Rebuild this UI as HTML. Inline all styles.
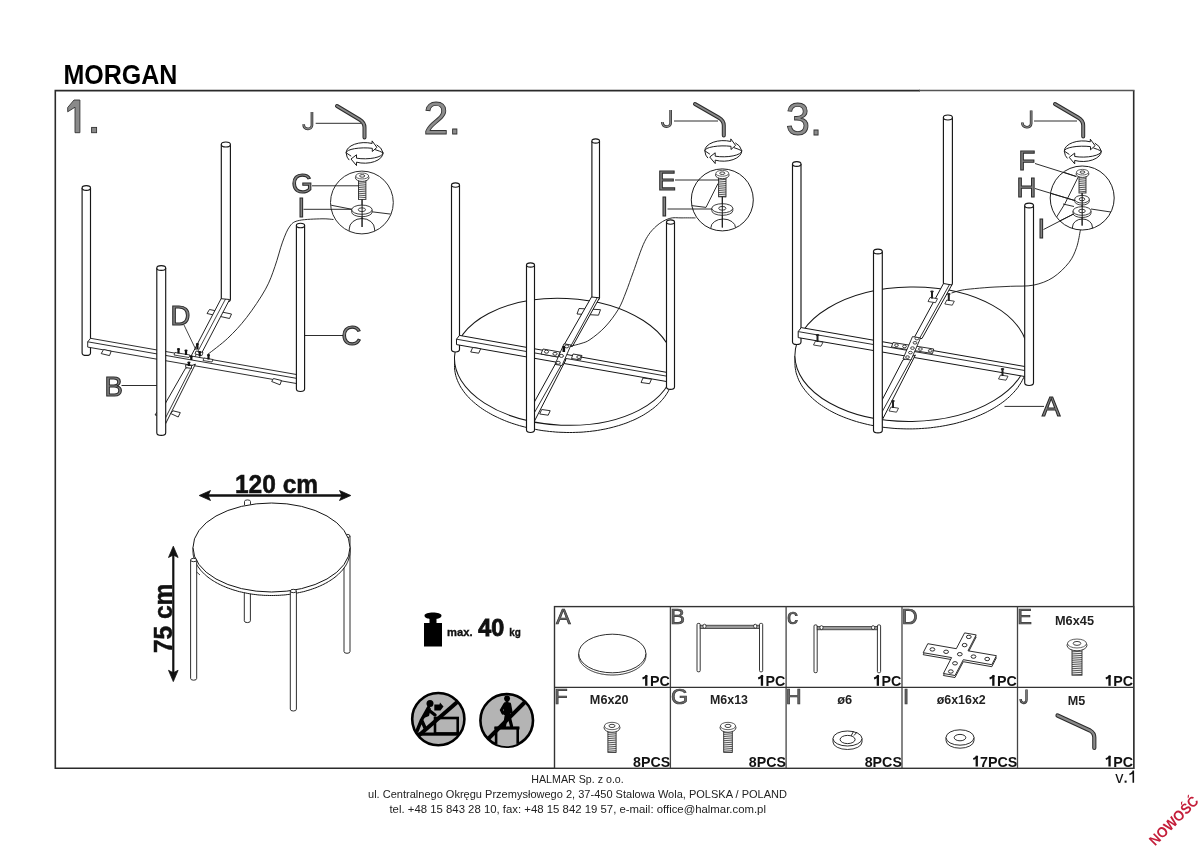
<!DOCTYPE html>
<html><head><meta charset="utf-8"><style>
html,body{margin:0;padding:0;background:#fff;width:1200px;height:848px;overflow:hidden}
svg{display:block;will-change:transform}
text{font-family:"Liberation Sans",sans-serif}
</style></head><body>
<svg width="1200" height="848" viewBox="0 0 1200 848">
<rect width="1200" height="848" fill="#fff"/>
<text x="63.4" y="84.4" font-size="27" font-weight="bold" fill="#000" text-anchor="start" textLength="114" lengthAdjust="spacingAndGlyphs" >MORGAN</text>
<path d="M920,90.6 L55.3,90.6 L55.3,768.3 L1133.7,768.3 L1133.7,90.6" fill="none" stroke="#2a2a2a" stroke-width="1.6"/>
<line x1="919" y1="90.6" x2="1134.5" y2="90.6" stroke="#555" stroke-width="1.5"/>
<text x="423.5" y="133.7" font-size="46" fill="#8c8c8c" stroke="#333" stroke-width="0.9" text-anchor="start" textLength="37.5" lengthAdjust="spacingAndGlyphs">2.</text>
<text x="785.8" y="134.6" font-size="46" fill="#8c8c8c" stroke="#333" stroke-width="0.9" text-anchor="start" textLength="36.2" lengthAdjust="spacingAndGlyphs">3.</text>
<rect x="554.5" y="606.6" width="579.2" height="161.69999999999993" fill="#fff" stroke="#333" stroke-width="1.4"/>
<line x1="670.4" y1="606.6" x2="670.4" y2="768.3" stroke="#444" stroke-width="1.3"/>
<line x1="786.1" y1="606.6" x2="786.1" y2="768.3" stroke="#444" stroke-width="1.3"/>
<line x1="902.0" y1="606.6" x2="902.0" y2="768.3" stroke="#444" stroke-width="1.3"/>
<line x1="1017.5" y1="606.6" x2="1017.5" y2="768.3" stroke="#444" stroke-width="1.3"/>
<line x1="554.5" y1="687.4" x2="1133.7" y2="687.4" stroke="#333" stroke-width="1.4"/>
<text x="555.9" y="623.8" font-size="22" fill="#6a6a6a" stroke="#333" stroke-width="0.7" text-anchor="start">A</text>
<text x="670.2" y="623.8" font-size="22" fill="#6a6a6a" stroke="#333" stroke-width="0.7" text-anchor="start">B</text>
<text x="787.1" y="623.8" font-size="22" fill="#6a6a6a" stroke="#333" stroke-width="0.7" text-anchor="start">c</text>
<text x="901.7" y="623.8" font-size="22" fill="#6a6a6a" stroke="#333" stroke-width="0.7" text-anchor="start">D</text>
<text x="1017.2" y="623.8" font-size="22" fill="#6a6a6a" stroke="#333" stroke-width="0.7" text-anchor="start">E</text>
<text x="554.2" y="704.4" font-size="22" fill="#6a6a6a" stroke="#333" stroke-width="0.7" text-anchor="start">F</text>
<text x="670.9" y="704.4" font-size="22" fill="#6a6a6a" stroke="#333" stroke-width="0.7" text-anchor="start">G</text>
<text x="785.7" y="704.4" font-size="22" fill="#6a6a6a" stroke="#333" stroke-width="0.7" text-anchor="start">H</text>
<text x="903" y="704.4" font-size="22" fill="#6a6a6a" stroke="#333" stroke-width="0.7" text-anchor="start">I</text>
<path d="M1026.50,689.40 L1026.50,699.90 C1026.50,704.10 1020.60,704.10 1020.60,699.12" fill="none" stroke="#333" stroke-width="2.4" stroke-linecap="butt"/>
<path d="M1026.50,689.40 L1026.50,699.90 C1026.50,704.10 1020.60,704.10 1020.60,699.12" fill="none" stroke="#8a8a8a" stroke-width="0.8" stroke-linecap="butt"/>
<path d="M646.25,675.10 L646.25,685.80" stroke="#111" stroke-width="2.3" fill="none"/>
<path d="M647.10,675.50 Q644.90,677.70 642.50,678.50" stroke="#111" stroke-width="1.9" fill="none"/>
<text x="669.6999999999999" y="685.8" font-size="15" font-weight="bold" fill="#111" text-anchor="end" textLength="19.8" lengthAdjust="spacingAndGlyphs" >PC</text>
<path d="M761.95,675.10 L761.95,685.80" stroke="#111" stroke-width="2.3" fill="none"/>
<path d="M762.80,675.50 Q760.60,677.70 758.20,678.50" stroke="#111" stroke-width="1.9" fill="none"/>
<text x="785.4" y="685.8" font-size="15" font-weight="bold" fill="#111" text-anchor="end" textLength="19.8" lengthAdjust="spacingAndGlyphs" >PC</text>
<path d="M877.85,675.10 L877.85,685.80" stroke="#111" stroke-width="2.3" fill="none"/>
<path d="M878.70,675.50 Q876.50,677.70 874.10,678.50" stroke="#111" stroke-width="1.9" fill="none"/>
<text x="901.3" y="685.8" font-size="15" font-weight="bold" fill="#111" text-anchor="end" textLength="19.8" lengthAdjust="spacingAndGlyphs" >PC</text>
<path d="M993.35,675.10 L993.35,685.80" stroke="#111" stroke-width="2.3" fill="none"/>
<path d="M994.20,675.50 Q992.00,677.70 989.60,678.50" stroke="#111" stroke-width="1.9" fill="none"/>
<text x="1016.8" y="685.8" font-size="15" font-weight="bold" fill="#111" text-anchor="end" textLength="19.8" lengthAdjust="spacingAndGlyphs" >PC</text>
<path d="M1109.55,675.10 L1109.55,685.80" stroke="#111" stroke-width="2.3" fill="none"/>
<path d="M1110.40,675.50 Q1108.20,677.70 1105.80,678.50" stroke="#111" stroke-width="1.9" fill="none"/>
<text x="1133.0000000000002" y="685.8" font-size="15" font-weight="bold" fill="#111" text-anchor="end" textLength="19.8" lengthAdjust="spacingAndGlyphs" >PC</text>
<text x="670.3" y="766.5" font-size="15" font-weight="bold" fill="#111" text-anchor="end" textLength="37.2" lengthAdjust="spacingAndGlyphs" >8PCS</text>
<text x="786.0" y="766.5" font-size="15" font-weight="bold" fill="#111" text-anchor="end" textLength="37.2" lengthAdjust="spacingAndGlyphs" >8PCS</text>
<text x="901.9" y="766.5" font-size="15" font-weight="bold" fill="#111" text-anchor="end" textLength="37.2" lengthAdjust="spacingAndGlyphs" >8PCS</text>
<path d="M976.75,755.80 L976.75,766.50" stroke="#111" stroke-width="2.3" fill="none"/>
<path d="M977.60,756.20 Q975.40,758.40 973.30,759.20" stroke="#111" stroke-width="1.9" fill="none"/>
<text x="1017.4" y="766.5" font-size="15" font-weight="bold" fill="#111" text-anchor="end" textLength="37.4" lengthAdjust="spacingAndGlyphs" >7PCS</text>
<path d="M1109.55,755.80 L1109.55,766.50" stroke="#111" stroke-width="2.3" fill="none"/>
<path d="M1110.40,756.20 Q1108.20,758.40 1105.80,759.20" stroke="#111" stroke-width="1.9" fill="none"/>
<text x="1133.0000000000002" y="766.5" font-size="15" font-weight="bold" fill="#111" text-anchor="end" textLength="19.8" lengthAdjust="spacingAndGlyphs" >PC</text>
<text x="1074.5" y="624.5" font-size="13.5" font-weight="bold" fill="#222" text-anchor="middle" textLength="39" lengthAdjust="spacingAndGlyphs" >M6x45</text>
<text x="609.2" y="703.6" font-size="13.5" font-weight="bold" fill="#222" text-anchor="middle" textLength="38.7" lengthAdjust="spacingAndGlyphs" >M6x20</text>
<text x="729" y="703.6" font-size="13.5" font-weight="bold" fill="#222" text-anchor="middle" textLength="37.9" lengthAdjust="spacingAndGlyphs" >M6x13</text>
<text x="844.7" y="703.6" font-size="13.5" font-weight="bold" fill="#222" text-anchor="middle" textLength="15" lengthAdjust="spacingAndGlyphs" >ø6</text>
<text x="961.2" y="703.6" font-size="13.5" font-weight="bold" fill="#222" text-anchor="middle" textLength="49" lengthAdjust="spacingAndGlyphs" >ø6x16x2</text>
<text x="1076.4" y="704.5" font-size="13.5" font-weight="bold" fill="#222" text-anchor="middle" textLength="17.5" lengthAdjust="spacingAndGlyphs" >M5</text>
<text x="577.5" y="782.5" font-size="11" font-weight="normal" fill="#222" text-anchor="middle" textLength="92.5" lengthAdjust="spacingAndGlyphs" >HALMAR Sp. z o.o.</text>
<text x="577.5" y="797.5" font-size="11" font-weight="normal" fill="#222" text-anchor="middle" textLength="419" lengthAdjust="spacingAndGlyphs" >ul. Centralnego Okręgu Przemysłowego 2, 37-450 Stalowa Wola, POLSKA / POLAND</text>
<text x="577.7" y="812.5" font-size="11" font-weight="normal" fill="#222" text-anchor="middle" textLength="376.5" lengthAdjust="spacingAndGlyphs" >tel. +48 15 843 28 10, fax: +48 15 842 19 57, e-mail: office@halmar.com.pl</text>
<text x="1115.3" y="782.7" font-size="17" font-weight="normal" fill="#111" text-anchor="start" textLength="8.2" lengthAdjust="spacingAndGlyphs" >v</text>
<rect x="1124.6" y="780.6" width="2" height="2.1" fill="#111"/>
<path d="M1133.3,782.7 L1133.3,770.6 M1133.6,771.2 Q1131.5,774 1129.4,774.6" stroke="#111" stroke-width="1.6" fill="none"/>
<text x="0" y="0" font-size="14.5" font-weight="bold" fill="#c41e3a" transform="translate(1155,846.5) rotate(-45)" textLength="63" lengthAdjust="spacingAndGlyphs">NOWOŚĆ</text>
<path d="M82.1,188 L82.1,352.88 Q82.1,355.4 86.3,355.4 Q90.5,355.4 90.5,352.88 L90.5,188" stroke="#161616" stroke-width="1.15" fill="#fff" />
<ellipse cx="86.3" cy="188" rx="4.200000000000003" ry="2.310000000000002" stroke="#161616" stroke-width="1.15" fill="#fff"/>
<path d="M221.3,144.5 L221.3,299.27 Q221.3,302 225.85000000000002,302 Q230.4,302 230.4,299.27 L230.4,144.5" stroke="#161616" stroke-width="1.15" fill="#fff" />
<ellipse cx="225.85000000000002" cy="144.5" rx="4.549999999999997" ry="2.5024999999999986" stroke="#161616" stroke-width="1.15" fill="#fff"/>
<polygon points="207.0,313.5 209.5,309.5 231.5,314.0 229.5,318.5" stroke="#161616" stroke-width="0.9" fill="#fff" stroke-linejoin="round"/>
<polygon points="221.1,298.7 229.6,299.5 197.5,361.0 189.0,360.0" stroke="#161616" stroke-width="0.95" fill="#fff" stroke-linejoin="round"/>
<line x1="225.5" y1="299" x2="193" y2="360.5" stroke="#161616" stroke-width="0.8"/>
<polygon points="90.6,338.3 297.5,374.7 297.5,383.7 87.7,347.1 87.7,341.8" stroke="#161616" stroke-width="0.9" fill="#fff" stroke-linejoin="round"/>
<line x1="87.7" y1="341.8" x2="297.5" y2="378.5" stroke="#161616" stroke-width="0.9"/>
<polygon points="101.2,353.6 103.6,349.5 111.2,351.2 109.5,355.6" stroke="#161616" stroke-width="0.9" fill="#fff" stroke-linejoin="round"/>
<polygon points="271.7,381.5 273.5,378.5 281.5,380.5 280.0,384.8" stroke="#161616" stroke-width="0.9" fill="#fff" stroke-linejoin="round"/>
<polygon points="185.5,368.3 195.4,364.1 165.7,423.5 160.0,412.7" stroke="#161616" stroke-width="0.95" fill="#fff" stroke-linejoin="round"/>
<line x1="191.3" y1="367.4" x2="165.2" y2="418.5" stroke="#161616" stroke-width="0.85"/>
<polygon points="170.7,413.5 173.0,410.8 180.3,412.6 178.2,417.0" stroke="#161616" stroke-width="0.9" fill="#fff" stroke-linejoin="round"/>
<polygon points="155.0,415.0 157.0,412.0 163.0,413.0 162.0,416.0" stroke="#161616" stroke-width="0.9" fill="#fff" stroke-linejoin="round"/>
<polygon points="185.7,364.7 191.5,365.6 191.5,368.4 185.7,367.6" stroke="#161616" stroke-width="0.9" fill="#fff" stroke-linejoin="round"/>
<polygon points="175.0,352.5 190.0,355.0 189.0,357.5 174.0,355.0" stroke="#161616" stroke-width="0.8" fill="#fff" stroke-linejoin="round"/>
<polygon points="196.0,351.0 203.0,352.5 202.0,355.5 195.0,354.0" stroke="#161616" stroke-width="0.8" fill="#fff" stroke-linejoin="round"/>
<polygon points="204.0,358.0 213.0,359.5 212.0,362.0 203.0,360.5" stroke="#161616" stroke-width="0.8" fill="#fff" stroke-linejoin="round"/>
<rect x="177.4" y="349.0" width="2.2" height="4.5" fill="#111"/>
<ellipse cx="178.5" cy="349.0" rx="1.6" ry="0.9" fill="#111"/>
<rect x="184.9" y="350.5" width="2.2" height="4.5" fill="#111"/>
<ellipse cx="186" cy="350.5" rx="1.6" ry="0.9" fill="#111"/>
<rect x="196.3" y="344.0" width="2.2" height="5.5" fill="#111"/>
<ellipse cx="197.4" cy="344.0" rx="1.6" ry="0.9" fill="#111"/>
<rect x="198.6" y="352" width="2.2" height="4" fill="#111"/>
<ellipse cx="199.7" cy="352" rx="1.6" ry="0.9" fill="#111"/>
<rect x="207.4" y="355.0" width="2.2" height="4.5" fill="#111"/>
<ellipse cx="208.5" cy="355.0" rx="1.6" ry="0.9" fill="#111"/>
<rect x="190.20000000000002" y="356.5" width="2.2" height="3.5" fill="#111"/>
<ellipse cx="191.3" cy="356.5" rx="1.6" ry="0.9" fill="#111"/>
<rect x="187.8" y="362.5" width="2.2" height="3.5" fill="#111"/>
<ellipse cx="188.9" cy="362.5" rx="1.6" ry="0.9" fill="#111"/>
<path d="M156.8,268 L156.8,432.63 Q156.8,435.3 161.25,435.3 Q165.7,435.3 165.7,432.63 L165.7,268" stroke="#161616" stroke-width="1.15" fill="#fff" />
<ellipse cx="161.25" cy="268" rx="4.449999999999989" ry="2.447499999999994" stroke="#161616" stroke-width="1.15" fill="#fff"/>
<path d="M296.4,225.5 L296.4,389.03999999999996 Q296.4,391.5 300.5,391.5 Q304.6,391.5 304.6,389.03999999999996 L304.6,225.5" stroke="#161616" stroke-width="1.15" fill="#fff" />
<ellipse cx="300.5" cy="225.5" rx="4.100000000000023" ry="2.2550000000000128" stroke="#161616" stroke-width="1.15" fill="#fff"/>
<path d="M207.9,354.3 C211.2,351.6 221.2,344.4 227.7,338.3 C234.1,332.2 240.3,325.7 246.6,317.5 C252.9,309.3 260.8,297.7 265.5,289.2 C270.2,280.7 272.1,274.5 274.9,266.6 C277.7,258.8 280.0,248.9 282.5,242.1 C285.0,235.3 287.2,229.6 290.0,226.0 C292.8,222.4 294.1,221.6 299.4,220.4 C304.7,219.2 316.3,219.0 322.0,218.8 C327.7,218.7 331.6,219.4 333.5,219.5" stroke="#161616" stroke-width="0.9" fill="none" />
<circle cx="361.9" cy="202.5" r="31.4" fill="#fff" stroke="#2b2b2b" stroke-width="1"/>
<defs><clipPath id="c1"><circle cx="361.9" cy="202.5" r="31"/></clipPath><clipPath id="c2"><circle cx="722" cy="200" r="30.8"/></clipPath><clipPath id="c3"><circle cx="1082.3" cy="198.3" r="31.8"/></clipPath></defs>
<g clip-path="url(#c1)">
<line x1="330" y1="205" x2="352" y2="209.3" stroke="#161616" stroke-width="0.9"/>
<line x1="372" y1="211.8" x2="394" y2="214.5" stroke="#161616" stroke-width="0.9"/>
<path d="M349.2,240 L349.2,229 A12.7,10.5 0 0 1 374.6,229 L374.6,240" stroke="#161616" stroke-width="0.9" fill="none" />
<line x1="362" y1="199" x2="362" y2="227" stroke="#161616" stroke-width="0.8"/>
</g>
<path d="M351.7,209.7 L351.7,212.1 A10.2,4.6 0 0 0 372.09999999999997,212.1 L372.09999999999997,209.7" fill="#fff" stroke="#2b2b2b" stroke-width="0.9"/>
<ellipse cx="361.9" cy="209.7" rx="10.2" ry="4.6" fill="#fff" stroke="#2b2b2b" stroke-width="0.9"/>
<ellipse cx="361.9" cy="209.7" rx="3.6" ry="1.9" fill="#fff" stroke="#2b2b2b" stroke-width="0.9"/>
<rect x="358.5" y="180.2" width="7.4" height="19.200000000000006" fill="#fff" stroke="#2b2b2b" stroke-width="0.9"/>
<line x1="358.5" y1="181.8" x2="365.9" y2="182.4" stroke="#2b2b2b" stroke-width="0.8"/>
<line x1="358.5" y1="183.7" x2="365.9" y2="184.3" stroke="#2b2b2b" stroke-width="0.8"/>
<line x1="358.5" y1="185.6" x2="365.9" y2="186.2" stroke="#2b2b2b" stroke-width="0.8"/>
<line x1="358.5" y1="187.5" x2="365.9" y2="188.1" stroke="#2b2b2b" stroke-width="0.8"/>
<line x1="358.5" y1="189.4" x2="365.9" y2="190.0" stroke="#2b2b2b" stroke-width="0.8"/>
<line x1="358.5" y1="191.3" x2="365.9" y2="191.9" stroke="#2b2b2b" stroke-width="0.8"/>
<line x1="358.5" y1="193.2" x2="365.9" y2="193.8" stroke="#2b2b2b" stroke-width="0.8"/>
<line x1="358.5" y1="195.1" x2="365.9" y2="195.7" stroke="#2b2b2b" stroke-width="0.8"/>
<line x1="358.5" y1="197.0" x2="365.9" y2="197.6" stroke="#2b2b2b" stroke-width="0.8"/>
<ellipse cx="362.2" cy="177.7" rx="6.8" ry="3.7" fill="#fff" stroke="#2b2b2b" stroke-width="0.9"/>
<ellipse cx="362.2" cy="176.0" rx="6.46" ry="2.9600000000000004" fill="#fff" stroke="#2b2b2b" stroke-width="0.7200000000000001"/>
<ellipse cx="362.2" cy="175.9" rx="2.584" ry="1.295" fill="none" stroke="#2b2b2b" stroke-width="0.9"/>
<line x1="362.1" y1="199.4" x2="362.1" y2="227" stroke="#161616" stroke-width="1.0"/>
<path d="M337,106 L359.5,119.5 Q364.5,122.5 364.5,127.5 L364.5,137.5" stroke="#2b2b2b" stroke-width="4.0" fill="none" stroke-linecap="round" stroke-linejoin="round"/>
<path d="M337,106 L359.5,119.5 Q364.5,122.5 364.5,127.5 L364.5,137.5" stroke="#8a8a8a" stroke-width="2.0" fill="none" stroke-linecap="round" stroke-linejoin="round"/>
<path d="M346.1,152.8 A18.5,10.2 0 0 1 372.10,143.48 L372.10,140.88 L376.90,147.40 L372.30,151.50 L372.30,148.32 A18.5,4.9 0 0 0 346.1,152.8 Z" fill="#fff" stroke="#1e1e1e" stroke-width="1.0" stroke-linejoin="round"/>
<path d="M376.6,144.8 Q381.6,147.3 383.1,152.8 M375.1,149.60000000000002 Q379.6,151.0 383.1,152.8" fill="none" stroke="#1e1e1e" stroke-width="1.0"/>
<path d="M383.1,152.8 A18.5,10.399999999999999 0 0 1 356.50,162.15 L356.50,165.55 L351.00,159.00 L356.50,154.80 L356.50,158.19 A18.5,6.0 0 0 0 383.1,152.8 Z" fill="#fff" stroke="#1e1e1e" stroke-width="1.0" stroke-linejoin="round"/>
<path d="M346.1,152.8 Q346.6,157.8 349.20000000000005,160.10000000000002 M346.1,152.8 L351.20000000000005,156.20000000000002" fill="none" stroke="#1e1e1e" stroke-width="1.0"/>
<path d="M311.95,112.00 L311.95,125.13 C311.95,130.25 303.65,130.25 303.65,124.16" fill="none" stroke="#333" stroke-width="2.7" stroke-linecap="butt"/>
<path d="M311.95,112.00 L311.95,125.13 C311.95,130.25 303.65,130.25 303.65,124.16" fill="none" stroke="#8a8a8a" stroke-width="1.1" stroke-linecap="butt"/>
<line x1="315.7" y1="123.3" x2="361" y2="123.3" stroke="#161616" stroke-width="0.9"/>
<text x="291.5" y="193.2" font-size="27.5" fill="#858585" stroke="#2a2a2a" stroke-width="1.05" text-anchor="start">G</text>
<line x1="312" y1="185.8" x2="358.5" y2="185.8" stroke="#161616" stroke-width="0.9"/>
<text x="297.5" y="217" font-size="27.5" fill="#858585" stroke="#2a2a2a" stroke-width="1.05" text-anchor="start">I</text>
<line x1="303.5" y1="209.3" x2="351.6" y2="209.3" stroke="#161616" stroke-width="0.9"/>
<text x="170.5" y="325" font-size="27.5" fill="#858585" stroke="#2a2a2a" stroke-width="1.05" text-anchor="start">D</text>
<line x1="184" y1="325" x2="196" y2="350" stroke="#161616" stroke-width="0.8"/>
<text x="104.5" y="395.8" font-size="27.5" fill="#858585" stroke="#2a2a2a" stroke-width="1.05" text-anchor="start">B</text>
<line x1="121.5" y1="385.5" x2="156.8" y2="385.5" stroke="#161616" stroke-width="0.9"/>
<text x="341.5" y="344.8" font-size="27.5" fill="#858585" stroke="#2a2a2a" stroke-width="1.05" text-anchor="start">C</text>
<line x1="304.9" y1="335.5" x2="343" y2="335.5" stroke="#161616" stroke-width="0.9"/>
<polygon points="74,100 79.9,100 79.9,132.7 75,132.7 75,107.2 67.7,111.8 67.7,107.5" fill="#8a8a8a" stroke="#333" stroke-width="0.9"/>
<rect x="91.6" y="127.4" width="5" height="5.3" fill="#8a8a8a" stroke="#333" stroke-width="0.9"/>
<path d="M673.3,374.0 L673.2,375.6 L673.0,377.3 L672.7,378.9 L672.4,380.6 L672.0,382.2 L671.5,383.8 L670.9,385.4 L670.3,387.0 L669.6,388.6 L668.8,390.2 L668.0,391.8 L667.0,393.3 L666.1,394.8 L665.0,396.3 L663.9,397.8 L662.7,399.3 L661.4,400.7 L660.1,402.2 L658.7,403.6 L657.2,405.0 L655.7,406.3 L654.1,407.7 L652.4,409.0 L650.7,410.2 L648.9,411.5 L647.1,412.7 L645.2,413.9 L643.3,415.1 L641.3,416.2 L639.2,417.3 L637.1,418.4 L635.0,419.4 L632.8,420.4 L630.5,421.3 L628.2,422.3 L625.9,423.2 L623.5,424.0 L621.1,424.8 L618.6,425.6 L616.1,426.3 L613.6,427.0 L611.0,427.7 L608.4,428.3 L605.8,428.9 L603.1,429.4 L600.4,429.9 L597.7,430.4 L595.0,430.8 L592.2,431.1 L589.4,431.5 L586.6,431.7 L583.8,432.0 L581.0,432.2 L578.2,432.3 L575.3,432.4 L572.5,432.5 L569.6,432.5 L566.8,432.5 L563.9,432.4 L561.0,432.3 L558.2,432.2 L555.3,432.0 L552.5,431.7 L549.6,431.5 L546.8,431.1 L543.9,430.8 L541.1,430.4 L538.3,429.9 L535.6,429.4 L532.8,428.9 L530.1,428.3 L527.4,427.7 L524.7,427.0 L522.0,426.3 L519.4,425.6 L516.8,424.8 L514.2,424.0 L511.7,423.2 L509.2,422.3 L506.7,421.4 L504.3,420.4 L501.9,419.4 L499.6,418.4 L497.3,417.3 L495.0,416.2 L492.8,415.1 L490.7,413.9 L488.6,412.7 L486.5,411.5 L484.5,410.3 L482.6,409.0 L480.7,407.7 L478.9,406.4 L477.1,405.0 L475.4,403.6 L473.7,402.2 L472.1,400.8 L470.6,399.3 L469.1,397.9 L467.7,396.4 L466.4,394.9 L465.1,393.3 L463.9,391.8 L462.8,390.2 L461.7,388.6 L460.7,387.1 L459.8,385.5 L459.0,383.8 L458.2,382.2 L457.5,380.6 L456.9,379.0 L456.3,377.3 L455.8,375.7 L455.4,374.0 L455.1,372.3 L454.8,370.7 L454.6,369.0 L454.5,367.4 L454.5,365.7 L454.5,364.0 L454.5,356.8" stroke="#161616" stroke-width="1.0" fill="#fff" />
<line x1="673.3" y1="366.8" x2="673.3" y2="374.0" stroke="#161616" stroke-width="1.0"/>
<ellipse cx="563.9" cy="361.8" rx="109.5" ry="63.4" stroke="#161616" stroke-width="1.0" fill="#fff" transform="rotate(2.6 563.9 361.8)"/>
<path d="M451.5,185 L451.5,349.6 Q451.5,352 455.5,352 Q459.5,352 459.5,349.6 L459.5,185" stroke="#161616" stroke-width="1.15" fill="#fff" />
<ellipse cx="455.5" cy="185" rx="4.0" ry="2.2" stroke="#161616" stroke-width="1.15" fill="#fff"/>
<path d="M591.9,141 L591.9,297.71999999999997 Q591.9,300 595.7,300 Q599.5,300 599.5,297.71999999999997 L599.5,141" stroke="#161616" stroke-width="1.15" fill="#fff" />
<ellipse cx="595.7" cy="141" rx="3.8000000000000114" ry="2.0900000000000065" stroke="#161616" stroke-width="1.15" fill="#fff"/>
<polygon points="577.0,314.0 579.0,308.5 600.5,309.7 598.5,315.2" stroke="#161616" stroke-width="0.9" fill="#fff" stroke-linejoin="round"/>
<polygon points="591.5,297.0 599.5,297.8 572.4,346.5 564.0,345.0" stroke="#161616" stroke-width="1.0" fill="#fff" stroke-linejoin="round"/>
<line x1="597.3" y1="297.5" x2="570.3" y2="347" stroke="#161616" stroke-width="0.9"/>
<polygon points="459.5,335.4 667.5,372.5 667.5,381.7 456.5,344.6 456.5,339.2" stroke="#161616" stroke-width="1.0" fill="#fff" stroke-linejoin="round"/>
<line x1="456.5" y1="339.2" x2="667.5" y2="376.3" stroke="#161616" stroke-width="0.9"/>
<polygon points="470.7,352.0 472.7,347.5 480.7,348.7 478.7,353.2" stroke="#161616" stroke-width="0.9" fill="#fff" stroke-linejoin="round"/>
<polygon points="641.0,382.5 643.0,378.0 651.5,379.2 649.5,383.7" stroke="#161616" stroke-width="0.9" fill="#fff" stroke-linejoin="round"/>
<polygon points="557.0,361.0 566.0,359.5 534.0,422.0 530.5,409.0" stroke="#161616" stroke-width="1.0" fill="#fff" stroke-linejoin="round"/>
<line x1="563.5" y1="361.2" x2="532.5" y2="416" stroke="#161616" stroke-width="0.9"/>
<polygon points="539.7,414.0 541.7,409.5 550.2,410.7 548.2,415.2" stroke="#161616" stroke-width="0.9" fill="#fff" stroke-linejoin="round"/>
<polygon points="555.0,364.4 562.0,365.5 571.0,345.0 564.0,343.8" stroke="#161616" stroke-width="0.9" fill="#fff" stroke-linejoin="round"/>
<polygon points="543.0,349.0 560.0,352.0 558.0,357.0 541.0,354.0" stroke="#161616" stroke-width="0.9" fill="#fff" stroke-linejoin="round"/>
<polygon points="573.0,354.0 582.0,355.5 580.5,360.0 571.5,358.5" stroke="#161616" stroke-width="0.9" fill="#fff" stroke-linejoin="round"/>
<ellipse cx="546.5" cy="351.7" rx="2.1" ry="1.5" stroke="#161616" stroke-width="0.85" fill="#fff"/>
<ellipse cx="555" cy="353.8" rx="2.1" ry="1.5" stroke="#161616" stroke-width="0.85" fill="#fff"/>
<ellipse cx="578.9" cy="357" rx="2.1" ry="1.5" stroke="#161616" stroke-width="0.85" fill="#fff"/>
<ellipse cx="558.2" cy="362.8" rx="2.1" ry="1.5" stroke="#161616" stroke-width="0.85" fill="#fff"/>
<ellipse cx="566.7" cy="346.4" rx="2.1" ry="1.5" stroke="#161616" stroke-width="0.85" fill="#fff"/>
<ellipse cx="561.4" cy="355.9" rx="2.1" ry="1.5" stroke="#161616" stroke-width="0.85" fill="#fff"/>
<rect x="562.5" y="346" width="2.6" height="6" fill="#111"/>
<path d="M526.5,265 L526.5,430.1 Q526.5,432.5 530.5,432.5 Q534.5,432.5 534.5,430.1 L534.5,265" stroke="#161616" stroke-width="1.15" fill="#fff" />
<ellipse cx="530.5" cy="265" rx="4.0" ry="2.2" stroke="#161616" stroke-width="1.15" fill="#fff"/>
<path d="M666.5,222 L666.5,387.0 Q666.5,389.4 670.5,389.4 Q674.5,389.4 674.5,387.0 L674.5,222" stroke="#161616" stroke-width="1.15" fill="#fff" />
<ellipse cx="670.5" cy="222" rx="4.0" ry="2.2" stroke="#161616" stroke-width="1.15" fill="#fff"/>
<path d="M571.0,346.0 C572.7,345.6 577.8,344.6 581.0,343.5 C584.2,342.4 586.0,342.4 590.0,339.6 C594.0,336.9 600.3,332.0 605.0,327.0 C609.7,322.0 614.8,315.2 618.3,309.4 C621.8,303.6 623.5,298.3 626.0,292.0 C628.5,285.7 630.3,280.1 633.4,271.7 C636.5,263.3 640.9,249.1 644.7,241.5 C648.5,233.9 651.9,230.2 656.0,226.4 C660.1,222.6 664.9,219.9 669.2,218.5 C673.5,217.1 677.6,218.0 682.0,217.9 C686.4,217.8 693.2,217.9 695.5,217.9" stroke="#161616" stroke-width="0.9" fill="none" />
<circle cx="722.3" cy="199.9" r="31" fill="#fff" stroke="#1e1e1e" stroke-width="1"/>
<g clip-path="url(#c2)">
<path d="M690,205.4 L706,207.4 L718,183.5" stroke="#161616" stroke-width="0.9" fill="none" />
<path d="M710.8,240 L710.8,228 A12.4,9 0 0 1 735.6,228 L735.6,240" stroke="#161616" stroke-width="0.9" fill="none" />
<line x1="722.3" y1="196" x2="722.3" y2="228" stroke="#161616" stroke-width="0.8"/>
</g>
<path d="M711.8,208.3 L711.8,210.70000000000002 A10.5,4.6 0 0 0 732.8,210.70000000000002 L732.8,208.3" fill="#fff" stroke="#2b2b2b" stroke-width="0.9"/>
<ellipse cx="722.3" cy="208.3" rx="10.5" ry="4.6" fill="#fff" stroke="#2b2b2b" stroke-width="0.9"/>
<ellipse cx="722.3" cy="208.3" rx="3.6" ry="1.9" fill="#fff" stroke="#2b2b2b" stroke-width="0.9"/>
<rect x="718.5999999999999" y="177.5" width="7.4" height="19.3" fill="#fff" stroke="#2b2b2b" stroke-width="0.9"/>
<line x1="718.5999999999999" y1="179.1" x2="726.0" y2="179.7" stroke="#2b2b2b" stroke-width="0.8"/>
<line x1="718.5999999999999" y1="181.0" x2="726.0" y2="181.6" stroke="#2b2b2b" stroke-width="0.8"/>
<line x1="718.5999999999999" y1="182.9" x2="726.0" y2="183.5" stroke="#2b2b2b" stroke-width="0.8"/>
<line x1="718.5999999999999" y1="184.8" x2="726.0" y2="185.4" stroke="#2b2b2b" stroke-width="0.8"/>
<line x1="718.5999999999999" y1="186.7" x2="726.0" y2="187.3" stroke="#2b2b2b" stroke-width="0.8"/>
<line x1="718.5999999999999" y1="188.6" x2="726.0" y2="189.2" stroke="#2b2b2b" stroke-width="0.8"/>
<line x1="718.5999999999999" y1="190.5" x2="726.0" y2="191.1" stroke="#2b2b2b" stroke-width="0.8"/>
<line x1="718.5999999999999" y1="192.4" x2="726.0" y2="193.0" stroke="#2b2b2b" stroke-width="0.8"/>
<line x1="718.5999999999999" y1="194.3" x2="726.0" y2="194.9" stroke="#2b2b2b" stroke-width="0.8"/>
<line x1="718.5999999999999" y1="196.2" x2="726.0" y2="196.8" stroke="#2b2b2b" stroke-width="0.8"/>
<ellipse cx="722.3" cy="175.0" rx="6.8" ry="3.7" fill="#fff" stroke="#2b2b2b" stroke-width="0.9"/>
<ellipse cx="722.3" cy="173.3" rx="6.46" ry="2.9600000000000004" fill="#fff" stroke="#2b2b2b" stroke-width="0.7200000000000001"/>
<ellipse cx="722.3" cy="173.20000000000002" rx="2.584" ry="1.295" fill="none" stroke="#2b2b2b" stroke-width="0.9"/>
<line x1="722.3" y1="196.8" x2="722.3" y2="227" stroke="#161616" stroke-width="1.0"/>
<path d="M695,104 L718.5,117.5 Q723.8,120.5 723.8,125.5 L723.8,135.5" stroke="#2b2b2b" stroke-width="4.0" fill="none" stroke-linecap="round" stroke-linejoin="round"/>
<path d="M695,104 L718.5,117.5 Q723.8,120.5 723.8,125.5 L723.8,135.5" stroke="#8a8a8a" stroke-width="2.0" fill="none" stroke-linecap="round" stroke-linejoin="round"/>
<path d="M704.8,150.8 A18.5,10.2 0 0 1 730.80,141.48 L730.80,138.88 L735.60,145.40 L731.00,149.50 L731.00,146.32 A18.5,4.9 0 0 0 704.8,150.8 Z" fill="#fff" stroke="#1e1e1e" stroke-width="1.0" stroke-linejoin="round"/>
<path d="M735.3,142.8 Q740.3,145.3 741.8,150.8 M733.8,147.60000000000002 Q738.3,149.0 741.8,150.8" fill="none" stroke="#1e1e1e" stroke-width="1.0"/>
<path d="M741.8,150.8 A18.5,10.399999999999999 0 0 1 715.20,160.15 L715.20,163.55 L709.70,157.00 L715.20,152.80 L715.20,156.19 A18.5,6.0 0 0 0 741.8,150.8 Z" fill="#fff" stroke="#1e1e1e" stroke-width="1.0" stroke-linejoin="round"/>
<path d="M704.8,150.8 Q705.3,155.8 707.9,158.10000000000002 M704.8,150.8 L709.9,154.20000000000002" fill="none" stroke="#1e1e1e" stroke-width="1.0"/>
<path d="M670.65,110.00 L670.65,122.90 C670.65,127.95 662.35,127.95 662.35,121.95" fill="none" stroke="#333" stroke-width="2.7" stroke-linecap="butt"/>
<path d="M670.65,110.00 L670.65,122.90 C670.65,127.95 662.35,127.95 662.35,121.95" fill="none" stroke="#8a8a8a" stroke-width="1.1" stroke-linecap="butt"/>
<line x1="674" y1="121" x2="718" y2="121" stroke="#161616" stroke-width="0.9"/>
<text x="657.5" y="189.7" font-size="27.5" fill="#858585" stroke="#2a2a2a" stroke-width="1.05" text-anchor="start">E</text>
<line x1="675" y1="180" x2="719" y2="180" stroke="#161616" stroke-width="0.9"/>
<text x="660.5" y="215.9" font-size="27.5" fill="#858585" stroke="#2a2a2a" stroke-width="1.05" text-anchor="start">I</text>
<line x1="667.5" y1="209" x2="712" y2="209" stroke="#161616" stroke-width="0.9"/>
<path d="M1027.5,359.9 L1027.5,361.6 L1027.4,363.4 L1027.2,365.2 L1027.0,366.9 L1026.6,368.7 L1026.2,370.4 L1025.7,372.1 L1025.2,373.9 L1024.5,375.6 L1023.8,377.3 L1023.0,379.0 L1022.1,380.7 L1021.2,382.4 L1020.1,384.1 L1019.0,385.7 L1017.9,387.4 L1016.6,389.0 L1015.3,390.6 L1013.9,392.2 L1012.4,393.7 L1010.9,395.3 L1009.3,396.8 L1007.6,398.3 L1005.9,399.7 L1004.1,401.2 L1002.2,402.6 L1000.3,403.9 L998.3,405.3 L996.3,406.6 L994.2,407.9 L992.0,409.2 L989.8,410.4 L987.5,411.6 L985.2,412.8 L982.8,413.9 L980.4,415.0 L977.9,416.0 L975.4,417.1 L972.9,418.0 L970.3,419.0 L967.6,419.9 L964.9,420.7 L962.2,421.6 L959.5,422.3 L956.7,423.1 L953.9,423.8 L951.0,424.4 L948.1,425.0 L945.2,425.6 L942.3,426.1 L939.4,426.6 L936.4,427.0 L933.4,427.4 L930.4,427.8 L927.4,428.1 L924.4,428.3 L921.4,428.5 L918.3,428.7 L915.3,428.8 L912.3,428.9 L909.2,428.9 L906.2,428.9 L903.1,428.8 L900.1,428.7 L897.1,428.6 L894.1,428.4 L891.0,428.1 L888.1,427.8 L885.1,427.5 L882.1,427.1 L879.2,426.6 L876.3,426.2 L873.4,425.6 L870.5,425.1 L867.7,424.5 L864.9,423.8 L862.1,423.1 L859.3,422.4 L856.6,421.6 L854.0,420.8 L851.3,419.9 L848.8,419.0 L846.2,418.1 L843.7,417.1 L841.2,416.1 L838.8,415.1 L836.5,414.0 L834.2,412.9 L831.9,411.7 L829.7,410.5 L827.6,409.3 L825.5,408.0 L823.5,406.7 L821.5,405.4 L819.6,404.1 L817.7,402.7 L816.0,401.3 L814.2,399.8 L812.6,398.4 L811.0,396.9 L809.5,395.4 L808.1,393.8 L806.7,392.3 L805.4,390.7 L804.2,389.1 L803.0,387.5 L801.9,385.9 L800.9,384.2 L800.0,382.5 L799.1,380.9 L798.4,379.2 L797.7,377.5 L797.1,375.7 L796.5,374.0 L796.0,372.3 L795.7,370.5 L795.4,368.8 L795.1,367.0 L795.0,365.3 L794.9,363.5 L794.9,356.0" stroke="#161616" stroke-width="1.0" fill="#fff" />
<line x1="1027.5" y1="352.4" x2="1027.5" y2="359.9" stroke="#161616" stroke-width="1.0"/>
<ellipse cx="911.2" cy="354.2" rx="116.3" ry="67.2" stroke="#161616" stroke-width="1.0" fill="#fff" transform="rotate(-0.9 911.2 354.2)"/>
<path d="M792.5,164 L792.5,341.95 Q792.5,344.5 796.75,344.5 Q801,344.5 801,341.95 L801,164" stroke="#161616" stroke-width="1.15" fill="#fff" />
<ellipse cx="796.75" cy="164" rx="4.25" ry="2.3375000000000004" stroke="#161616" stroke-width="1.15" fill="#fff"/>
<path d="M943.4,117.5 L943.4,283.3 Q943.4,286 947.9,286 Q952.4,286 952.4,283.3 L952.4,117.5" stroke="#161616" stroke-width="1.15" fill="#fff" />
<ellipse cx="947.9" cy="117.5" rx="4.5" ry="2.475" stroke="#161616" stroke-width="1.15" fill="#fff"/>
<polygon points="943.5,283.5 951.8,285.0 922.0,338.5 914.0,338.0" stroke="#161616" stroke-width="1.0" fill="#fff" stroke-linejoin="round"/>
<line x1="949.5" y1="284.5" x2="919.5" y2="338.5" stroke="#161616" stroke-width="0.9"/>
<polygon points="928.0,301.5 930.0,297.5 937.5,298.7 935.5,302.7" stroke="#161616" stroke-width="0.8" fill="#fff" stroke-linejoin="round"/>
<rect x="931" y="291.5" width="2" height="7" fill="#222"/>
<ellipse cx="932" cy="291.5" rx="1.8" ry="1" fill="#222"/>
<polygon points="944.8,304.0 946.8,300.0 954.3,301.2 952.3,305.2" stroke="#161616" stroke-width="0.8" fill="#fff" stroke-linejoin="round"/>
<rect x="947.8" y="294" width="2" height="7" fill="#222"/>
<ellipse cx="948.8" cy="294" rx="1.8" ry="1" fill="#222"/>
<polygon points="801.2,327.6 1025.3,366.6 1025.3,376.6 798.2,337.6 798.2,331.6" stroke="#161616" stroke-width="1.0" fill="#fff" stroke-linejoin="round"/>
<line x1="798.2" y1="331.6" x2="1025.3" y2="370.6" stroke="#161616" stroke-width="0.9"/>
<polygon points="813.5,345.0 815.5,341.0 823.0,342.2 821.0,346.2" stroke="#161616" stroke-width="0.8" fill="#fff" stroke-linejoin="round"/>
<rect x="816.5" y="335" width="2" height="7" fill="#222"/>
<ellipse cx="817.5" cy="335" rx="1.8" ry="1" fill="#222"/>
<polygon points="998.5,379.0 1000.5,375.0 1008.0,376.2 1006.0,380.2" stroke="#161616" stroke-width="0.8" fill="#fff" stroke-linejoin="round"/>
<rect x="1001.5" y="369" width="2" height="7" fill="#222"/>
<ellipse cx="1002.5" cy="369" rx="1.8" ry="1" fill="#222"/>
<polygon points="903.0,359.9 915.4,355.0 883.0,418.5 880.0,404.0" stroke="#161616" stroke-width="1.0" fill="#fff" stroke-linejoin="round"/>
<line x1="911.3" y1="359" x2="882" y2="412" stroke="#161616" stroke-width="0.9"/>
<polygon points="889.0,411.0 891.0,407.0 898.5,408.2 896.5,412.2" stroke="#161616" stroke-width="0.8" fill="#fff" stroke-linejoin="round"/>
<rect x="892" y="401" width="2" height="7" fill="#222"/>
<ellipse cx="893" cy="401" rx="1.8" ry="1" fill="#222"/>
<polygon points="893.0,342.5 933.7,349.0 932.5,353.5 891.5,347.0" stroke="#161616" stroke-width="0.9" fill="#fff" stroke-linejoin="round"/>
<polygon points="912.5,336.6 920.5,338.0 911.0,360.0 903.0,358.8" stroke="#161616" stroke-width="0.9" fill="#fff" stroke-linejoin="round"/>
<ellipse cx="916.9" cy="338.6" rx="1.9" ry="1.3" stroke="#161616" stroke-width="0.8" fill="#fff"/>
<ellipse cx="915" cy="342.8" rx="1.9" ry="1.3" stroke="#161616" stroke-width="0.8" fill="#fff"/>
<ellipse cx="912.5" cy="348.1" rx="1.9" ry="1.3" stroke="#161616" stroke-width="0.8" fill="#fff"/>
<ellipse cx="910.4" cy="352.6" rx="1.9" ry="1.3" stroke="#161616" stroke-width="0.8" fill="#fff"/>
<ellipse cx="907.5" cy="357.1" rx="1.9" ry="1.3" stroke="#161616" stroke-width="0.8" fill="#fff"/>
<ellipse cx="896.5" cy="345.2" rx="1.9" ry="1.3" stroke="#161616" stroke-width="0.8" fill="#fff"/>
<ellipse cx="904.5" cy="346.4" rx="1.9" ry="1.3" stroke="#161616" stroke-width="0.8" fill="#fff"/>
<ellipse cx="920.4" cy="349" rx="1.9" ry="1.3" stroke="#161616" stroke-width="0.8" fill="#fff"/>
<ellipse cx="930.2" cy="350.8" rx="1.9" ry="1.3" stroke="#161616" stroke-width="0.8" fill="#fff"/>
<path d="M873.5,251.5 L873.5,430.16 Q873.5,432.8 877.9,432.8 Q882.3,432.8 882.3,430.16 L882.3,251.5" stroke="#161616" stroke-width="1.15" fill="#fff" />
<ellipse cx="877.9" cy="251.5" rx="4.399999999999977" ry="2.4199999999999875" stroke="#161616" stroke-width="1.15" fill="#fff"/>
<path d="M1024.7,205.5 L1024.7,382.86 Q1024.7,385.5 1029.1,385.5 Q1033.5,385.5 1033.5,382.86 L1033.5,205.5" stroke="#161616" stroke-width="1.15" fill="#fff" />
<ellipse cx="1029.1" cy="205.5" rx="4.399999999999977" ry="2.4199999999999875" stroke="#161616" stroke-width="1.15" fill="#fff"/>
<line x1="1004.5" y1="406.4" x2="1044" y2="406.4" stroke="#161616" stroke-width="0.9"/>
<text x="1042" y="416" font-size="27.5" fill="#858585" stroke="#2a2a2a" stroke-width="1.05" text-anchor="start">A</text>
<path d="M951.5,293.0 C952.9,292.6 956.9,291.2 960.0,290.5 C963.1,289.8 965.2,289.5 970.2,289.0 C975.2,288.5 983.3,287.8 990.0,287.3 C996.7,286.9 1003.0,286.7 1010.3,286.3 C1017.6,285.9 1026.6,286.6 1033.7,285.1 C1040.8,283.6 1047.1,281.3 1053.0,277.5 C1058.9,273.7 1065.1,267.5 1069.0,262.5 C1072.9,257.5 1074.7,252.8 1076.6,247.4 C1078.5,242.0 1079.8,232.9 1080.4,230.0" stroke="#161616" stroke-width="0.9" fill="none" />
<circle cx="1082.2" cy="198" r="32" fill="#fff" stroke="#1e1e1e" stroke-width="1"/>
<g clip-path="url(#c3)">
<line x1="1040" y1="164.2" x2="1076.3" y2="176.5" stroke="#161616" stroke-width="0.9"/>
<line x1="1040" y1="190.2" x2="1075" y2="200.6" stroke="#161616" stroke-width="0.9"/>
<path d="M1078.2,177 L1065,203.5 L1056,218" stroke="#161616" stroke-width="0.9" fill="none" />
<line x1="1063" y1="204" x2="1074" y2="206.5" stroke="#161616" stroke-width="0.9"/>
<line x1="1091" y1="209" x2="1116" y2="212.8" stroke="#161616" stroke-width="0.9"/>
<line x1="1041.9" y1="229.8" x2="1074" y2="213.8" stroke="#161616" stroke-width="0.9"/>
<path d="M1072.5,240 L1072.5,227 A9.95,8 0 0 1 1092.4,227 L1092.4,240" stroke="#161616" stroke-width="0.9" fill="none" />
<line x1="1082" y1="193" x2="1082" y2="225.6" stroke="#161616" stroke-width="0.8"/>
</g>
<path d="M1073,211 L1073,213.2 A9,4.3 0 0 0 1091,213.2 L1091,211" fill="#fff" stroke="#2b2b2b" stroke-width="0.9"/>
<ellipse cx="1082" cy="211" rx="9" ry="4.3" fill="#fff" stroke="#2b2b2b" stroke-width="0.9"/>
<ellipse cx="1082" cy="211" rx="3.3" ry="1.8" fill="#fff" stroke="#2b2b2b" stroke-width="0.9"/>
<path d="M1074.7,199.2 L1074.7,201.2 A7.3,3.8 0 0 0 1089.3,201.2 L1089.3,199.2" fill="#fff" stroke="#2b2b2b" stroke-width="0.9"/>
<ellipse cx="1082" cy="199.2" rx="7.3" ry="3.8" fill="#fff" stroke="#2b2b2b" stroke-width="0.9"/>
<ellipse cx="1082" cy="199.2" rx="2.8" ry="1.6" fill="#fff" stroke="#2b2b2b" stroke-width="0.9"/>
<rect x="1079.0" y="176.2" width="7.0" height="16.80000000000001" fill="#fff" stroke="#2b2b2b" stroke-width="0.9"/>
<line x1="1079.0" y1="177.8" x2="1086.0" y2="178.4" stroke="#2b2b2b" stroke-width="0.8"/>
<line x1="1079.0" y1="179.7" x2="1086.0" y2="180.3" stroke="#2b2b2b" stroke-width="0.8"/>
<line x1="1079.0" y1="181.6" x2="1086.0" y2="182.2" stroke="#2b2b2b" stroke-width="0.8"/>
<line x1="1079.0" y1="183.5" x2="1086.0" y2="184.1" stroke="#2b2b2b" stroke-width="0.8"/>
<line x1="1079.0" y1="185.4" x2="1086.0" y2="186.0" stroke="#2b2b2b" stroke-width="0.8"/>
<line x1="1079.0" y1="187.3" x2="1086.0" y2="187.9" stroke="#2b2b2b" stroke-width="0.8"/>
<line x1="1079.0" y1="189.2" x2="1086.0" y2="189.8" stroke="#2b2b2b" stroke-width="0.8"/>
<line x1="1079.0" y1="191.1" x2="1086.0" y2="191.7" stroke="#2b2b2b" stroke-width="0.8"/>
<ellipse cx="1082.5" cy="173.89999999999998" rx="6.4" ry="3.5" fill="#fff" stroke="#2b2b2b" stroke-width="0.9"/>
<ellipse cx="1082.5" cy="172.2" rx="6.08" ry="2.8000000000000003" fill="#fff" stroke="#2b2b2b" stroke-width="0.7200000000000001"/>
<ellipse cx="1082.5" cy="172.1" rx="2.4320000000000004" ry="1.2249999999999999" fill="none" stroke="#2b2b2b" stroke-width="0.9"/>
<line x1="1082.2" y1="193" x2="1082.2" y2="225.6" stroke="#161616" stroke-width="1.0"/>
<path d="M1055,104 L1078,117.5 Q1083.2,120.5 1083.2,125.5 L1083.2,136.5" stroke="#2b2b2b" stroke-width="4.0" fill="none" stroke-linecap="round" stroke-linejoin="round"/>
<path d="M1055,104 L1078,117.5 Q1083.2,120.5 1083.2,125.5 L1083.2,136.5" stroke="#8a8a8a" stroke-width="2.0" fill="none" stroke-linecap="round" stroke-linejoin="round"/>
<path d="M1064.3,151.1 A18.5,10.2 0 0 1 1090.30,141.78 L1090.30,139.18 L1095.10,145.70 L1090.50,149.80 L1090.50,146.62 A18.5,4.9 0 0 0 1064.3,151.1 Z" fill="#fff" stroke="#1e1e1e" stroke-width="1.0" stroke-linejoin="round"/>
<path d="M1094.8,143.1 Q1099.8,145.6 1101.3,151.1 M1093.3,147.9 Q1097.8,149.29999999999998 1101.3,151.1" fill="none" stroke="#1e1e1e" stroke-width="1.0"/>
<path d="M1101.3,151.1 A18.5,10.399999999999999 0 0 1 1074.70,160.45 L1074.70,163.85 L1069.20,157.30 L1074.70,153.10 L1074.70,156.49 A18.5,6.0 0 0 0 1101.3,151.1 Z" fill="#fff" stroke="#1e1e1e" stroke-width="1.0" stroke-linejoin="round"/>
<path d="M1064.3,151.1 Q1064.8,156.1 1067.3999999999999,158.4 M1064.3,151.1 L1069.3999999999999,154.5" fill="none" stroke="#1e1e1e" stroke-width="1.0"/>
<path d="M1031.15,110.50 L1031.15,123.55 C1031.15,128.65 1022.35,128.65 1022.35,122.59" fill="none" stroke="#333" stroke-width="2.7" stroke-linecap="butt"/>
<path d="M1031.15,110.50 L1031.15,123.55 C1031.15,128.65 1022.35,128.65 1022.35,122.59" fill="none" stroke="#8a8a8a" stroke-width="1.1" stroke-linecap="butt"/>
<line x1="1034" y1="121" x2="1077" y2="121" stroke="#161616" stroke-width="0.9"/>
<text x="1018.5" y="170" font-size="27.5" fill="#858585" stroke="#2a2a2a" stroke-width="1.05" text-anchor="start">F</text>
<line x1="1035" y1="163.5" x2="1076.3" y2="176.5" stroke="#161616" stroke-width="0.9"/>
<text x="1016.5" y="196.5" font-size="27.5" fill="#858585" stroke="#2a2a2a" stroke-width="1.05" text-anchor="start">H</text>
<line x1="1035" y1="188.5" x2="1075" y2="200.6" stroke="#161616" stroke-width="0.9"/>
<text x="1037.5" y="237.6" font-size="27.5" fill="#858585" stroke="#2a2a2a" stroke-width="1.05" text-anchor="start">I</text>
<line x1="1043.5" y1="229.5" x2="1074" y2="213.8" stroke="#161616" stroke-width="0.9"/>
<path d="M244.3,590 L244.3,620.77 Q244.3,622.6 247.35000000000002,622.6 Q250.4,622.6 250.4,620.77 L250.4,590" stroke="#161616" stroke-width="0.9" fill="#fff" />
<ellipse cx="247.35000000000002" cy="590" rx="3.049999999999997" ry="1.6774999999999987" stroke="#161616" stroke-width="0.9" fill="#fff"/>
<path d="M344,536 L344,651.5 Q344,653.3 347.0,653.3 Q350,653.3 350,651.5 L350,536" stroke="#161616" stroke-width="0.9" fill="#fff" />
<ellipse cx="347.0" cy="536" rx="3.0" ry="1.6500000000000001" stroke="#161616" stroke-width="0.9" fill="#fff"/>
<path d="M244.5,505 L244.5,501.5 A3,1.6 0 0 1 250.5,501.5 L250.5,505" fill="#fff" stroke="#1e1e1e" stroke-width="0.9"/>
<path d="M350.0,551.0 L350.0,552.2 L349.9,553.3 L349.8,554.5 L349.6,555.7 L349.3,556.8 L349.0,558.0 L348.7,559.1 L348.3,560.3 L347.8,561.4 L347.3,562.5 L346.8,563.6 L346.2,564.8 L345.5,565.9 L344.8,566.9 L344.0,568.0 L343.2,569.1 L342.4,570.2 L341.4,571.2 L340.5,572.2 L339.5,573.2 L338.4,574.3 L337.3,575.2 L336.2,576.2 L335.0,577.2 L333.8,578.1 L332.5,579.0 L331.2,579.9 L329.8,580.8 L328.4,581.6 L327.0,582.5 L325.5,583.3 L324.0,584.1 L322.5,584.8 L320.9,585.6 L319.3,586.3 L317.6,587.0 L316.0,587.7 L314.3,588.3 L312.5,588.9 L310.8,589.5 L309.0,590.1 L307.1,590.6 L305.3,591.2 L303.4,591.7 L301.5,592.1 L299.6,592.5 L297.7,592.9 L295.8,593.3 L293.8,593.7 L291.8,594.0 L289.8,594.3 L287.8,594.5 L285.8,594.8 L283.8,595.0 L281.7,595.1 L279.7,595.3 L277.7,595.4 L275.6,595.4 L273.6,595.5 L271.5,595.5 L269.4,595.5 L267.4,595.4 L265.3,595.4 L263.3,595.3 L261.3,595.1 L259.2,595.0 L257.2,594.8 L255.2,594.5 L253.2,594.3 L251.2,594.0 L249.2,593.7 L247.2,593.3 L245.3,592.9 L243.4,592.5 L241.5,592.1 L239.6,591.7 L237.7,591.2 L235.9,590.6 L234.0,590.1 L232.2,589.5 L230.5,588.9 L228.7,588.3 L227.0,587.7 L225.4,587.0 L223.7,586.3 L222.1,585.6 L220.5,584.8 L219.0,584.1 L217.5,583.3 L216.0,582.5 L214.6,581.6 L213.2,580.8 L211.8,579.9 L210.5,579.0 L209.2,578.1 L208.0,577.2 L206.8,576.2 L205.7,575.2 L204.6,574.3 L203.5,573.2 L202.5,572.2 L201.6,571.2 L200.6,570.2 L199.8,569.1 L199.0,568.0 L198.2,566.9 L197.5,565.9 L196.8,564.8 L196.2,563.6 L195.7,562.5 L195.2,561.4 L194.7,560.3 L194.3,559.1 L194.0,558.0 L193.7,556.8 L193.4,555.7 L193.2,554.5 L193.1,553.3 L193.0,552.2 L193.0,551.0 L193.0,547.5" stroke="#161616" stroke-width="1.0" fill="#fff" />
<line x1="350.0" y1="547.5" x2="350.0" y2="551.0" stroke="#161616" stroke-width="1.0"/>
<ellipse cx="271.5" cy="547.5" rx="78.5" ry="44.5" stroke="#161616" stroke-width="1.0" fill="#fff"/>
<path d="M190.6,560 L190.6,678.37 Q190.6,680.2 193.64999999999998,680.2 Q196.7,680.2 196.7,678.37 L196.7,560" stroke="#161616" stroke-width="0.9" fill="#fff" />
<ellipse cx="193.64999999999998" cy="560" rx="3.049999999999997" ry="1.6774999999999987" stroke="#161616" stroke-width="0.9" fill="#fff"/>
<path d="M290.3,591 L290.3,709.17 Q290.3,711 293.35,711 Q296.4,711 296.4,709.17 L296.4,591" stroke="#161616" stroke-width="0.9" fill="#fff" />
<ellipse cx="293.35" cy="591" rx="3.049999999999983" ry="1.6774999999999907" stroke="#161616" stroke-width="0.9" fill="#fff"/>
<line x1="196.7" y1="572" x2="200" y2="575" stroke="#161616" stroke-width="0.8"/>
<line x1="205" y1="495.5" x2="345" y2="495.5" stroke="#111" stroke-width="2.6"/>
<polygon points="199.2,495.5 210.5,490.5 208,495.5 210.5,500.5" fill="#111" stroke="#111" stroke-width="0.8" stroke-linejoin="round"/>
<polygon points="350.8,495.5 339.5,490.5 342,495.5 339.5,500.5" fill="#111" stroke="#111" stroke-width="0.8" stroke-linejoin="round"/>
<text x="234.9" y="493.2" font-size="25" font-weight="bold" fill="#111" text-anchor="start" textLength="83.2" lengthAdjust="spacingAndGlyphs" stroke="#111" stroke-width="0.5">120 cm</text>
<line x1="173.3" y1="552" x2="173.3" y2="676" stroke="#111" stroke-width="2.2"/>
<polygon points="173.3,546.2 168.5,557.5 173.3,555 178.1,557.5" fill="#111" stroke="#111" stroke-width="0.8" stroke-linejoin="round"/>
<polygon points="173.3,681.6 168.5,670.3 173.3,672.8 178.1,670.3" fill="#111" stroke="#111" stroke-width="0.8" stroke-linejoin="round"/>
<text x="0" y="0" font-size="25.5" font-weight="bold" fill="#111" stroke="#111" stroke-width="0.5" transform="translate(172.2,653.1) rotate(-90)" textLength="69.5" lengthAdjust="spacingAndGlyphs">75 cm</text>
<path d="M424.5,615.5 C424.5,611.5 441.5,611.5 441.5,615.5 C441.5,618.5 437,618.6 436.5,619 L436.5,623 L442,623 L442,646.5 L424,646.5 L424,623 L429.5,623 L429.5,619 C429,618.6 424.5,618.5 424.5,615.5 Z" fill="#000"/>
<text x="447" y="635.5" font-size="11.5" font-weight="bold" fill="#111" text-anchor="start" textLength="25.5" lengthAdjust="spacingAndGlyphs" stroke="#111" stroke-width="0.35">max.</text>
<text x="478.3" y="635.5" font-size="24.5" font-weight="bold" fill="#111" text-anchor="start" textLength="26" lengthAdjust="spacingAndGlyphs" stroke="#111" stroke-width="0.9">40</text>
<text x="509.2" y="635.5" font-size="10.5" font-weight="bold" fill="#111" text-anchor="start" textLength="11.6" lengthAdjust="spacingAndGlyphs" stroke="#111" stroke-width="0.35">kg</text>
<defs><clipPath id="ic1"><circle cx="438.3" cy="719.1" r="25.5"/></clipPath><clipPath id="ic2"><circle cx="506.7" cy="720.4" r="25.8"/></clipPath></defs>
<circle cx="438.3" cy="719.1" r="26.1" fill="#b4b4b4" stroke="#000" stroke-width="2.6"/>
<g clip-path="url(#ic1)">
<rect x="435" y="718" width="22.7" height="15.5" fill="#b4b4b4" stroke="#000" stroke-width="2.6"/>
<rect x="410" y="732.5" width="50" height="3.2" fill="#000"/>
<line x1="413" y1="740.5" x2="459" y2="700.5" stroke="#000" stroke-width="4"/>
<circle cx="430" cy="703.6" r="3.5" fill="#000"/>
<path d="M428.5,707.5 L421.5,720 M421.5,720 L417,731 M422,721 L425.5,729 M428,709.5 L435,715" stroke="#000" stroke-width="3.4" fill="none" stroke-linecap="round"/>
<polygon points="426,710 431,708 429,716 424,718" fill="#000"/>
<polygon points="434.3,704.5 439.5,704.5 440,702.5 443.5,706.5 440.5,710.5 434.3,710.5" fill="#000"/>
</g>
<circle cx="506.7" cy="720.4" r="26.3" fill="#b4b4b4" stroke="#000" stroke-width="2.6"/>
<g clip-path="url(#ic2)">
<rect x="496.1" y="728" width="21.6" height="26" fill="#b4b4b4" stroke="#000" stroke-width="2.6"/>
<rect x="494.3" y="726.6" width="25.2" height="2.8" fill="#000"/>
<line x1="486" y1="741" x2="526" y2="701" stroke="#000" stroke-width="4"/>
<circle cx="507.1" cy="698.4" r="3" fill="#000"/>
<path d="M507,702 L507.5,715 M506.5,714 L504.5,726 M508.5,714 L511.5,726 M505,704 L501.5,710 L503,713 M509.5,704 L511,712" stroke="#000" stroke-width="3.2" fill="none" stroke-linecap="round"/>
<rect x="504" y="703" width="6" height="12" fill="#000"/>
</g>
<path d="M645.9,655.7 L645.9,656.2 L645.9,656.7 L645.8,657.2 L645.7,657.7 L645.6,658.2 L645.5,658.7 L645.3,659.2 L645.2,659.7 L645.0,660.2 L644.8,660.7 L644.5,661.2 L644.3,661.7 L644.0,662.1 L643.7,662.6 L643.3,663.1 L643.0,663.6 L642.6,664.0 L642.2,664.5 L641.8,664.9 L641.4,665.4 L640.9,665.8 L640.5,666.2 L640.0,666.6 L639.5,667.0 L639.0,667.4 L638.4,667.8 L637.8,668.2 L637.3,668.6 L636.7,669.0 L636.1,669.3 L635.4,669.7 L634.8,670.0 L634.1,670.4 L633.4,670.7 L632.8,671.0 L632.0,671.3 L631.3,671.6 L630.6,671.9 L629.9,672.2 L629.1,672.4 L628.3,672.7 L627.6,672.9 L626.8,673.1 L626.0,673.3 L625.2,673.5 L624.3,673.7 L623.5,673.9 L622.7,674.1 L621.8,674.2 L621.0,674.3 L620.1,674.5 L619.3,674.6 L618.4,674.7 L617.6,674.8 L616.7,674.8 L615.8,674.9 L614.9,674.9 L614.1,675.0 L613.2,675.0 L612.3,675.0 L611.4,675.0 L610.5,675.0 L609.7,674.9 L608.8,674.9 L607.9,674.8 L607.0,674.8 L606.2,674.7 L605.3,674.6 L604.5,674.5 L603.6,674.3 L602.8,674.2 L601.9,674.1 L601.1,673.9 L600.3,673.7 L599.4,673.5 L598.6,673.3 L597.8,673.1 L597.0,672.9 L596.3,672.7 L595.5,672.4 L594.7,672.2 L594.0,671.9 L593.3,671.6 L592.6,671.3 L591.8,671.0 L591.2,670.7 L590.5,670.4 L589.8,670.0 L589.2,669.7 L588.5,669.3 L587.9,669.0 L587.3,668.6 L586.8,668.2 L586.2,667.8 L585.6,667.4 L585.1,667.0 L584.6,666.6 L584.1,666.2 L583.7,665.8 L583.2,665.4 L582.8,664.9 L582.4,664.5 L582.0,664.0 L581.6,663.6 L581.3,663.1 L580.9,662.6 L580.6,662.1 L580.3,661.7 L580.1,661.2 L579.8,660.7 L579.6,660.2 L579.4,659.7 L579.3,659.2 L579.1,658.7 L579.0,658.2 L578.9,657.7 L578.8,657.2 L578.7,656.7 L578.7,656.2 L578.7,655.7 L578.7,653.5" stroke="#161616" stroke-width="0.9" fill="#fff" />
<line x1="645.9" y1="653.5" x2="645.9" y2="655.7" stroke="#161616" stroke-width="0.9"/>
<ellipse cx="612.3" cy="653.5" rx="33.6" ry="19.3" stroke="#161616" stroke-width="0.9" fill="#fff"/>
<rect x="697" y="623.4" width="3.2" height="48.39999999999998" rx="1.2" fill="#fff" stroke="#1e1e1e" stroke-width="0.9"/>
<rect x="759.5" y="623.4" width="3.2" height="48.39999999999998" rx="1.2" fill="#fff" stroke="#1e1e1e" stroke-width="0.9"/>
<rect x="700.2" y="625.1999999999999" width="59.3" height="3.2" fill="#9a9a9a" stroke="#2a2a2a" stroke-width="0.75"/>
<ellipse cx="704.5" cy="626.1999999999999" rx="1.6" ry="2" fill="#fff" stroke="#1e1e1e" stroke-width="0.8"/>
<ellipse cx="755.2" cy="626.1999999999999" rx="1.6" ry="2" fill="#fff" stroke="#1e1e1e" stroke-width="0.8"/>
<rect x="814" y="624.9" width="3.2" height="47.80000000000007" rx="1.2" fill="#fff" stroke="#1e1e1e" stroke-width="0.9"/>
<rect x="877.4" y="624.9" width="3.2" height="47.80000000000007" rx="1.2" fill="#fff" stroke="#1e1e1e" stroke-width="0.9"/>
<rect x="817.2" y="626.5999999999999" width="60.199999999999974" height="3.2" fill="#9a9a9a" stroke="#2a2a2a" stroke-width="0.75"/>
<ellipse cx="821.5" cy="627.5999999999999" rx="1.6" ry="2" fill="#fff" stroke="#1e1e1e" stroke-width="0.8"/>
<ellipse cx="873.1" cy="627.5999999999999" rx="1.6" ry="2" fill="#fff" stroke="#1e1e1e" stroke-width="0.8"/>
<polygon points="927.8,645.7 956.3,650.7 964.6,634.9 976.2,636.9 968.0,652.8 996.4,657.7 991.8,666.7 963.3,661.7 955.0,677.5 943.4,675.5 951.6,659.6 923.2,654.7" stroke="#161616" stroke-width="0.9" fill="#fff" stroke-linejoin="round"/>
<polygon points="927.8,643.7 956.3,648.7 964.6,632.9 976.2,634.9 968.0,650.8 996.4,655.7 991.8,664.7 963.3,659.7 955.0,675.5 943.4,673.5 951.6,657.6 923.2,652.7" stroke="#161616" stroke-width="0.9" fill="#fff" stroke-linejoin="round"/>
<ellipse cx="932.4" cy="649.4" rx="2.4" ry="1.7" stroke="#161616" stroke-width="0.9" fill="#fff"/>
<ellipse cx="946.1" cy="651.8" rx="2.4" ry="1.7" stroke="#161616" stroke-width="0.9" fill="#fff"/>
<ellipse cx="959.8" cy="654.2" rx="2.4" ry="1.7" stroke="#161616" stroke-width="0.9" fill="#fff"/>
<ellipse cx="973.5" cy="656.6" rx="2.4" ry="1.7" stroke="#161616" stroke-width="0.9" fill="#fff"/>
<ellipse cx="987.2" cy="659.0" rx="2.4" ry="1.7" stroke="#161616" stroke-width="0.9" fill="#fff"/>
<ellipse cx="968.8" cy="636.9" rx="2.4" ry="1.7" stroke="#161616" stroke-width="0.9" fill="#fff"/>
<ellipse cx="964.6" cy="645.1" rx="2.4" ry="1.7" stroke="#161616" stroke-width="0.9" fill="#fff"/>
<ellipse cx="955.0" cy="663.3" rx="2.4" ry="1.7" stroke="#161616" stroke-width="0.9" fill="#fff"/>
<ellipse cx="950.8" cy="671.5" rx="2.4" ry="1.7" stroke="#161616" stroke-width="0.9" fill="#fff"/>
<rect x="1072" y="649.6" width="10" height="25.600000000000044" fill="#fff" stroke="#2b2b2b" stroke-width="0.9"/>
<line x1="1072" y1="651.2" x2="1082" y2="651.8" stroke="#2b2b2b" stroke-width="0.8"/>
<line x1="1072" y1="653.1" x2="1082" y2="653.7" stroke="#2b2b2b" stroke-width="0.8"/>
<line x1="1072" y1="655.0" x2="1082" y2="655.6" stroke="#2b2b2b" stroke-width="0.8"/>
<line x1="1072" y1="656.9" x2="1082" y2="657.5" stroke="#2b2b2b" stroke-width="0.8"/>
<line x1="1072" y1="658.8" x2="1082" y2="659.4" stroke="#2b2b2b" stroke-width="0.8"/>
<line x1="1072" y1="660.7" x2="1082" y2="661.3" stroke="#2b2b2b" stroke-width="0.8"/>
<line x1="1072" y1="662.6" x2="1082" y2="663.2" stroke="#2b2b2b" stroke-width="0.8"/>
<line x1="1072" y1="664.5" x2="1082" y2="665.1" stroke="#2b2b2b" stroke-width="0.8"/>
<line x1="1072" y1="666.4" x2="1082" y2="667.0" stroke="#2b2b2b" stroke-width="0.8"/>
<line x1="1072" y1="668.3" x2="1082" y2="668.9" stroke="#2b2b2b" stroke-width="0.8"/>
<line x1="1072" y1="670.2" x2="1082" y2="670.8" stroke="#2b2b2b" stroke-width="0.8"/>
<line x1="1072" y1="672.1" x2="1082" y2="672.7" stroke="#2b2b2b" stroke-width="0.8"/>
<line x1="1072" y1="674.0" x2="1082" y2="674.6" stroke="#2b2b2b" stroke-width="0.8"/>
<ellipse cx="1077" cy="645.2" rx="10" ry="5.6" fill="#fff" stroke="#2b2b2b" stroke-width="0.9"/>
<ellipse cx="1077" cy="643.5" rx="9.5" ry="4.4799999999999995" fill="#fff" stroke="#2b2b2b" stroke-width="0.7200000000000001"/>
<ellipse cx="1077" cy="643.4" rx="3.8" ry="1.9599999999999997" fill="none" stroke="#2b2b2b" stroke-width="0.9"/>
<rect x="607.9" y="731.1" width="8.2" height="21.199999999999953" fill="#fff" stroke="#2b2b2b" stroke-width="0.9"/>
<line x1="607.9" y1="732.7" x2="616.1" y2="733.3" stroke="#2b2b2b" stroke-width="0.8"/>
<line x1="607.9" y1="734.6" x2="616.1" y2="735.2" stroke="#2b2b2b" stroke-width="0.8"/>
<line x1="607.9" y1="736.5" x2="616.1" y2="737.1" stroke="#2b2b2b" stroke-width="0.8"/>
<line x1="607.9" y1="738.4" x2="616.1" y2="739.0" stroke="#2b2b2b" stroke-width="0.8"/>
<line x1="607.9" y1="740.3" x2="616.1" y2="740.9" stroke="#2b2b2b" stroke-width="0.8"/>
<line x1="607.9" y1="742.2" x2="616.1" y2="742.8" stroke="#2b2b2b" stroke-width="0.8"/>
<line x1="607.9" y1="744.1" x2="616.1" y2="744.7" stroke="#2b2b2b" stroke-width="0.8"/>
<line x1="607.9" y1="746.0" x2="616.1" y2="746.6" stroke="#2b2b2b" stroke-width="0.8"/>
<line x1="607.9" y1="747.9" x2="616.1" y2="748.5" stroke="#2b2b2b" stroke-width="0.8"/>
<line x1="607.9" y1="749.8" x2="616.1" y2="750.4" stroke="#2b2b2b" stroke-width="0.8"/>
<line x1="607.9" y1="751.7" x2="616.1" y2="752.3" stroke="#2b2b2b" stroke-width="0.8"/>
<ellipse cx="612" cy="727.7" rx="8" ry="4.6" fill="#fff" stroke="#2b2b2b" stroke-width="0.9"/>
<ellipse cx="612" cy="726.0" rx="7.6" ry="3.6799999999999997" fill="#fff" stroke="#2b2b2b" stroke-width="0.7200000000000001"/>
<ellipse cx="612" cy="725.9" rx="3.04" ry="1.6099999999999999" fill="none" stroke="#2b2b2b" stroke-width="0.9"/>
<rect x="723.7" y="731.1" width="8.6" height="21.199999999999953" fill="#fff" stroke="#2b2b2b" stroke-width="0.9"/>
<line x1="723.7" y1="732.7" x2="732.3" y2="733.3" stroke="#2b2b2b" stroke-width="0.8"/>
<line x1="723.7" y1="734.6" x2="732.3" y2="735.2" stroke="#2b2b2b" stroke-width="0.8"/>
<line x1="723.7" y1="736.5" x2="732.3" y2="737.1" stroke="#2b2b2b" stroke-width="0.8"/>
<line x1="723.7" y1="738.4" x2="732.3" y2="739.0" stroke="#2b2b2b" stroke-width="0.8"/>
<line x1="723.7" y1="740.3" x2="732.3" y2="740.9" stroke="#2b2b2b" stroke-width="0.8"/>
<line x1="723.7" y1="742.2" x2="732.3" y2="742.8" stroke="#2b2b2b" stroke-width="0.8"/>
<line x1="723.7" y1="744.1" x2="732.3" y2="744.7" stroke="#2b2b2b" stroke-width="0.8"/>
<line x1="723.7" y1="746.0" x2="732.3" y2="746.6" stroke="#2b2b2b" stroke-width="0.8"/>
<line x1="723.7" y1="747.9" x2="732.3" y2="748.5" stroke="#2b2b2b" stroke-width="0.8"/>
<line x1="723.7" y1="749.8" x2="732.3" y2="750.4" stroke="#2b2b2b" stroke-width="0.8"/>
<line x1="723.7" y1="751.7" x2="732.3" y2="752.3" stroke="#2b2b2b" stroke-width="0.8"/>
<ellipse cx="728" cy="727.7" rx="8" ry="4.6" fill="#fff" stroke="#2b2b2b" stroke-width="0.9"/>
<ellipse cx="728" cy="726.0" rx="7.6" ry="3.6799999999999997" fill="#fff" stroke="#2b2b2b" stroke-width="0.7200000000000001"/>
<ellipse cx="728" cy="725.9" rx="3.04" ry="1.6099999999999999" fill="none" stroke="#2b2b2b" stroke-width="0.9"/>
<path d="M833,738.5 L833,742 A14.5,7.5 0 0 0 862,742 L862,738.5" fill="#fff" stroke="#1e1e1e" stroke-width="0.9"/>
<ellipse cx="847.5" cy="738.5" rx="14.5" ry="7.5" stroke="#161616" stroke-width="0.9" fill="#fff"/>
<ellipse cx="847.6" cy="739.5" rx="7.5" ry="4.1" stroke="#161616" stroke-width="0.9" fill="#fff"/>
<line x1="854" y1="735.5" x2="857" y2="732" stroke="#161616" stroke-width="0.9"/>
<line x1="851" y1="736" x2="853.5" y2="731.5" stroke="#161616" stroke-width="0.9"/>
<path d="M946,737.5 L946,740.5 A14,7.7 0 0 0 974,740.5 L974,737.5" fill="#fff" stroke="#1e1e1e" stroke-width="0.9"/>
<ellipse cx="960" cy="737.5" rx="14" ry="7.7" stroke="#161616" stroke-width="0.9" fill="#fff"/>
<ellipse cx="960" cy="737.6" rx="5.8" ry="3.2" stroke="#161616" stroke-width="0.9" fill="#fff"/>
<path d="M1057.5,715.5 L1090,730.5 Q1094.3,733 1094.3,737.5 L1094.3,748" stroke="#2b2b2b" stroke-width="4.2" fill="none" stroke-linecap="round" stroke-linejoin="round"/>
<path d="M1057.5,715.5 L1090,730.5 Q1094.3,733 1094.3,737.5 L1094.3,748" stroke="#8a8a8a" stroke-width="2.2" fill="none" stroke-linecap="round" stroke-linejoin="round"/>
</svg></body></html>
